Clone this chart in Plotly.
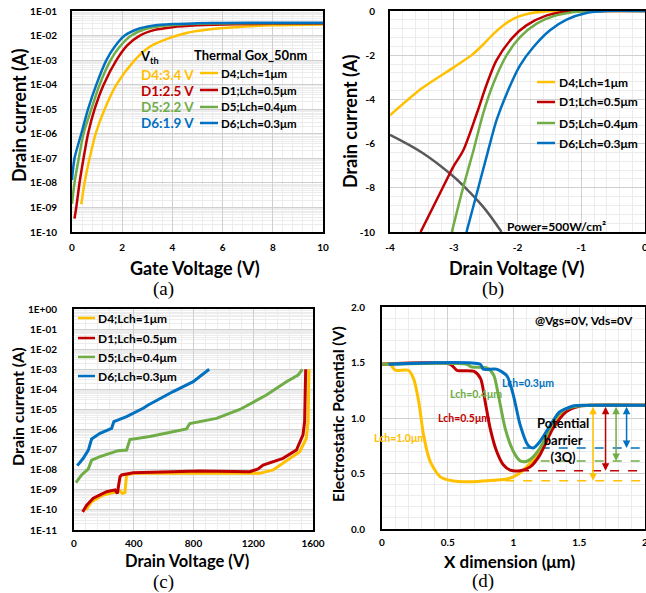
import plotly.graph_objects as go

W, H = 646, 593
FONT = "Lato"
SERIF = "Liberation Serif"
YEL, RED, GRN, BLU, GRY = "#FFC000", "#C00000", "#70AD47", "#0070C0", "#595959"
MAJ, MIN = "#d0d0d0", "#ececec"
COLORS = [YEL, RED, GRN, BLU]
NAMES = ["D4;Lch=1μm", "D1;Lch=0.5μm", "D5;Lch=0.4μm", "D6;Lch=0.3μm"]

# ---------------- Panel (a): Id-Vg (log) ----------------
a_vg_d4 = [0.37, 0.5, 0.7, 0.94, 1.3, 1.77, 2.5, 3.1, 3.9, 4.6, 5.5, 6.5, 8, 10]
a_id_d4 = [1.35e-9, 1e-8, 1e-7, 1e-6, 1e-5, 1e-4, 1e-3, 3.5e-3, 8e-3, 1.3e-2, 1.8e-2, 2.2e-2, 2.6e-2, 2.8e-2]
a_vg_d1 = [0.1, 0.17, 0.3, 0.46, 0.64, 0.9, 1.26, 1.77, 2.2, 2.7, 3.3, 4, 5, 6.5, 8, 10]
a_id_d1 = [3.5e-10, 1e-9, 1e-8, 1e-7, 1e-6, 1e-5, 1e-4, 1e-3, 4e-3, 1e-2, 1.7e-2, 2.2e-2, 2.6e-2, 2.9e-2, 3e-2, 3e-2]
a_vg_d5 = [0, 0.1, 0.27, 0.46, 0.77, 1.1, 1.54, 1.9, 2.36, 2.9, 3.5, 4.3, 5.5, 7, 10]
a_id_d5 = [1.4e-9, 1e-8, 1e-7, 1e-6, 1e-5, 1e-4, 1e-3, 3.5e-3, 1e-2, 1.8e-2, 2.4e-2, 2.85e-2, 3.1e-2, 3.2e-2, 3.2e-2]
a_vg_d6 = [0, 0.1, 0.37, 0.64, 0.97, 1.37, 1.7, 2.1, 2.6, 3.2, 4, 5, 6, 8, 10]
a_id_d6 = [1.3e-8, 1e-7, 1e-6, 1e-5, 1e-4, 1e-3, 3.5e-3, 1e-2, 1.8e-2, 2.5e-2, 2.95e-2, 3.15e-2, 3.25e-2, 3.3e-2, 3.3e-2]
a_vth = ["D4:3.4 V", "D1:2.5 V", "D5:2.2 V", "D6:1.9 V"]
a_yticks = [1e-10, 1e-9, 1e-8, 1e-7, 1e-6, 1e-5, 1e-4, 1e-3, 1e-2, 1e-1]
a_yticktext = ["1E-10", "1E-09", "1E-08", "1E-07", "1E-06", "1E-05", "1E-04", "1E-03", "1E-02", "1E-01"]

# ---------------- Panel (b): Id-Vd (linear) ----------------
b_vd_d4 = [-4, -3.5, -3.0, -2.7, -2.55, -2.4, -2.2, -2.0, -1.8, -1.6, -1.4, -1.0, 0]
b_id_d4 = [-4.72, -3.5, -2.55, -1.95, -1.55, -1.1, -0.6, -0.27, -0.1, -0.03, 0, 0, 0]
b_vd_d1 = [-3.52, -3.22, -3.01, -2.85, -2.64, -2.48, -2.33, -2.07, -1.86, -1.54, -1.23, -1.02, 0]
b_id_d1 = [-10, -8.27, -7.06, -6.3, -4.65, -3.29, -2.23, -1.18, -0.65, -0.2, -0.02, 0, 0]
b_vd_d5 = [-3.03, -2.85, -2.69, -2.54, -2.38, -2.17, -1.96, -1.7, -1.44, -1.12, -0.86, 0]
b_id_d5 = [-10, -7.96, -6.3, -4.65, -3.29, -2.0, -1.18, -0.57, -0.24, -0.05, 0, 0]
b_vd_d6 = [-2.8, -2.64, -2.48, -2.33, -2.17, -1.96, -1.75, -1.49, -1.23, -0.92, -0.6, 0]
b_id_d6 = [-10, -8.27, -6.53, -4.95, -3.74, -2.46, -1.63, -0.87, -0.39, -0.09, 0, 0]
b_vd_pow = [-4, -3.5, -3.0, -2.75, -2.5, -2.25]
b_id_pow = [-5.6, -6.4, -7.5, -8.2, -9.0, -10]

# ---------------- Panel (c): breakdown (log) ----------------
c_vd_d4 = [80, 118, 196, 308, 323, 341, 352, 397, 842, 1243, 1333, 1399, 1511, 1555, 1567, 1573]
c_id_d4 = [1e-10, 2.6e-10, 5.5e-10, 8.7e-10, 6.6e-10, 7.4e-10, 5.5e-9, 6.6e-9, 6.6e-9, 6.6e-9, 9.8e-9, 2.1e-8, 7.9e-8, 3.6e-7, 2.5e-6, 1e-3]
c_vd_d1 = [58, 85, 129, 218, 274, 290, 308, 319, 397, 842, 1177, 1232, 1266, 1399, 1489, 1533, 1544, 1551]
c_id_d1 = [8e-11, 1.7e-10, 3.8e-10, 8.1e-10, 1e-9, 6.6e-10, 4.5e-9, 5.5e-9, 7.1e-9, 8.7e-9, 7.9e-9, 1.1e-8, 1.7e-8, 3.7e-8, 9.5e-8, 5.4e-7, 2.5e-6, 1e-3]
c_vd_d5 = [13, 51, 96, 118, 174, 296, 352, 374, 508, 664, 753, 775, 954, 1110, 1288, 1422, 1500, 1529]
c_id_d5 = [2.3e-9, 5.5e-9, 1.1e-8, 3e-8, 4.5e-8, 8.9e-8, 9.5e-8, 3.2e-7, 4.5e-7, 7.9e-7, 1.07e-6, 2e-6, 3.6e-6, 1e-5, 5.2e-5, 2.4e-4, 5.1e-4, 1e-3]
c_vd_d6 = [22, 62, 96, 118, 174, 252, 267, 352, 463, 497, 664, 798, 905]
c_id_d6 = [1.6e-8, 3.7e-8, 9.5e-8, 3.4e-7, 6.5e-7, 1.15e-6, 2.5e-6, 4.4e-6, 1.15e-5, 1.66e-5, 7.8e-5, 2.4e-4, 1e-3]
c_yticks = [10.0 ** e for e in range(-11, 1)]
c_yticktext = ["1E-11", "1E-10", "1E-09", "1E-08", "1E-07", "1E-06", "1E-05", "1E-04", "1E-03", "1E-02", "1E-01", "1E+00"]

# ---------------- Panel (d): potential profile ----------------
d_x_10 = [0, 0.063, 0.1, 0.2, 0.24, 0.28, 0.316, 0.367, 0.443, 0.544, 0.67, 0.848, 0.95, 1.025, 1.1, 1.177, 1.28, 1.38, 1.48, 1.6, 2.0]
d_p_10 = [1.484, 1.484, 1.43, 1.43, 1.355, 1.145, 0.846, 0.606, 0.47, 0.432, 0.426, 0.44, 0.45, 0.486, 0.56, 0.666, 0.905, 1.055, 1.11, 1.115, 1.115]
d_x_05 = [0, 0.52, 0.57, 0.7, 0.75, 0.785, 0.823, 0.873, 0.924, 0.975, 1.05, 1.127, 1.2, 1.3, 1.4, 1.5, 1.6, 2.0]
d_p_05 = [1.484, 1.484, 1.43, 1.42, 1.355, 1.145, 0.905, 0.696, 0.576, 0.53, 0.525, 0.56, 0.666, 0.905, 1.055, 1.106, 1.115, 1.115]
d_x_04 = [0, 0.645, 0.68, 0.8, 0.85, 0.886, 0.937, 1.0, 1.05, 1.09, 1.15, 1.23, 1.3, 1.38, 1.48, 1.6, 2.0]
d_p_04 = [1.484, 1.484, 1.46, 1.45, 1.385, 1.2, 0.905, 0.696, 0.615, 0.606, 0.65, 0.786, 0.965, 1.07, 1.106, 1.115, 1.115]
d_x_03 = [0.05, 0.747, 0.77, 0.87, 0.95, 1.0, 1.05, 1.11, 1.15, 1.2, 1.28, 1.35, 1.46, 1.56, 2.0]
d_p_03 = [1.484, 1.484, 1.44, 1.44, 1.38, 1.2, 0.94, 0.755, 0.73, 0.786, 0.935, 1.055, 1.11, 1.115, 1.115]
d_labels = ["Lch=1.0μm", "Lch=0.5μm", "Lch=0.4μm", "Lch=0.3μm"]
d_levels = [0.435, 0.525, 0.612, 0.729]
d_dash_start = [0.8, 1.05, 1.07, 1.07]
d_arrow_x = [1.605, 1.70, 1.78, 1.86]
d_top = 1.115


def P(x, y):
    return x / W, 1 - y / H


def dom(x0, x1, y0, y1):
    return [x0 / W, x1 / W], [1 - y1 / H, 1 - y0 / H]


fig = go.Figure()

for xs, ys, c in [(a_vg_d4, a_id_d4, YEL), (a_vg_d1, a_id_d1, RED), (a_vg_d5, a_id_d5, GRN), (a_vg_d6, a_id_d6, BLU)]:
    fig.add_trace(go.Scatter(x=xs, y=ys, mode="lines", line=dict(color=c, width=2.5, shape="spline", smoothing=0.8),
                             xaxis="x", yaxis="y", showlegend=False))
fig.add_trace(go.Scatter(x=b_vd_pow, y=b_id_pow, mode="lines", line=dict(color=GRY, width=2.5, shape="spline"),
                         xaxis="x2", yaxis="y2", showlegend=False))
for xs, ys, c in [(b_vd_d4, b_id_d4, YEL), (b_vd_d1, b_id_d1, RED), (b_vd_d5, b_id_d5, GRN), (b_vd_d6, b_id_d6, BLU)]:
    fig.add_trace(go.Scatter(x=xs, y=ys, mode="lines", line=dict(color=c, width=2.5, shape="spline", smoothing=0.8),
                             xaxis="x2", yaxis="y2", showlegend=False))
for xs, ys, c in [(c_vd_d4, c_id_d4, YEL), (c_vd_d1, c_id_d1, RED), (c_vd_d5, c_id_d5, GRN), (c_vd_d6, c_id_d6, BLU)]:
    fig.add_trace(go.Scatter(x=xs, y=ys, mode="lines", line=dict(color=c, width=3),
                             xaxis="x3", yaxis="y3", showlegend=False))
d_curves = [(d_x_10, d_p_10), (d_x_05, d_p_05), (d_x_04, d_p_04), (d_x_03, d_p_03)]
for i in range(4):
    fig.add_trace(go.Scatter(x=[d_dash_start[i], 2], y=[d_levels[i], d_levels[i]], mode="lines",
                             line=dict(color=COLORS[i], width=1.5, dash="dash"),
                             xaxis="x4", yaxis="y4", showlegend=False))
for i, (xs, ys) in enumerate(d_curves):
    fig.add_trace(go.Scatter(x=xs, y=ys, mode="lines", line=dict(color=COLORS[i], width=3, shape="spline", smoothing=0.7),
                             xaxis="x4", yaxis="y4", showlegend=False))

tickfont = dict(family=FONT, size=10, color="black", weight="bold")


def axis(domain, anchor, standoff, **kw):
    d = dict(domain=domain, anchor=anchor, showline=True, linecolor="black", linewidth=2, mirror=True,
             showgrid=True, gridcolor=MAJ, gridwidth=1, zeroline=False, tickfont=tickfont,
             ticks="", ticklabelstandoff=standoff, ticklabeloverflow="allow",
             fixedrange=True, automargin=False)
    d.update(kw)
    return d


xa, ya = dom(72, 323, 11, 232)
xb, yb = dom(390, 645, 11, 232)
xc, yc = dom(74, 313, 309, 530)
xd, yd = dom(382, 645, 307, 529)


def logminor(lo, hi):
    return [k * 10.0 ** e for e in range(lo, hi) for k in range(2, 10)]


fig.update_layout(
    template="none",
    width=W, height=H, margin=dict(l=0, r=0, t=0, b=0, autoexpand=False),
    paper_bgcolor="white", plot_bgcolor="white", showlegend=False,
    xaxis=axis(xa, "y", 5, range=[0, 10], dtick=2, tick0=0,
               minor=dict(dtick=0.4, showgrid=True, gridcolor=MIN)),
    yaxis=axis(ya, "x", 11, type="log", range=[-10, -1], tickmode="array", tickvals=a_yticks, ticktext=a_yticktext,
               minor=dict(tickmode="array", tickvals=logminor(-10, -1), showgrid=True, gridcolor=MIN)),
    xaxis2=axis(xb, "y2", 5, range=[-4, 0], tickmode="array", tickvals=[-4, -3, -2, -1, 0],
                ticktext=["-4", "-3", "-2", "-1", "0"],
                minor=dict(dtick=0.2, tick0=0, showgrid=True, gridcolor=MIN)),
    yaxis2=axis(yb, "x2", 11, range=[-10, 0], tickmode="array", tickvals=[-10, -8, -6, -4, -2, 0],
                ticktext=["-10", "-8", "-6", "-4", "-2", "0"],
                minor=dict(dtick=0.4, tick0=0, showgrid=True, gridcolor=MIN)),
    xaxis3=axis(xc, "y3", 3, range=[0, 1600], dtick=400, tick0=0,
                minor=dict(dtick=80, showgrid=True, gridcolor=MIN)),
    yaxis3=axis(yc, "x3", 13, type="log", range=[-11, 0], tickmode="array", tickvals=c_yticks, ticktext=c_yticktext,
                minor=dict(tickmode="array", tickvals=logminor(-11, 0), showgrid=True, gridcolor=MIN)),
    xaxis4=axis(xd, "y4", 3, range=[0, 2], tickmode="array", tickvals=[0, 0.5, 1, 1.5, 2],
                ticktext=["0", "0.5", "1", "1.5", "2"],
                minor=dict(dtick=0.1, tick0=0, showgrid=True, gridcolor=MIN)),
    yaxis4=axis(yd, "x4", 13, range=[0, 2], dtick=0.5, tick0=0, tickformat=".1f",
                minor=dict(dtick=0.1, tick0=0, showgrid=True, gridcolor=MIN)),
)

ann = []
shapes = []


def text(x, y, s, size, color="black", xanchor="center", bold=True, angle=0, family=FONT):
    px, py = P(x, y)
    ann.append(dict(x=px, y=py, xref="paper", yref="paper", text=s, showarrow=False, xanchor=xanchor,
                    yanchor="middle", textangle=angle,
                    font=dict(family=family, size=size, color=color, weight="bold" if bold else "normal")))


def legend_box(x0, y0, x1, y1):
    a0, b0 = P(x0, y0)
    a1, b1 = P(x1, y1)
    shapes.append(dict(type="rect", xref="paper", yref="paper", x0=a0, y0=b1, x1=a1, y1=b0,
                       fillcolor="white", line=dict(width=0), layer="between"))


def legend_rows(lx0, lx1, tx, ys, size):
    for name, c, yy in zip(NAMES, COLORS, ys):
        a0, b0 = P(lx0, yy)
        a1, _ = P(lx1, yy)
        shapes.append(dict(type="line", xref="paper", yref="paper", x0=a0, x1=a1, y0=b0, y1=b0,
                           line=dict(color=c, width=2.5), layer="above"))
        text(tx, yy, name, size, xanchor="left")


# axis titles
text(19, 115, "Drain current (A)", 18, angle=-90)
text(195, 268, "Gate Voltage (V)", 18)
text(350, 121, "Drain current (A)", 18, angle=-90)
text(517, 268, "Drain Voltage (V)", 18)
text(18, 407, "Drain current (A)", 16, angle=-90)
text(187, 561, "Drain Voltage (V)", 16.5)
text(338, 414, "Electrostatic Potential (V)", 15.5, angle=-90)
text(510, 561, "X dimension (μm)", 17)
# panel letters
text(163, 289, "(a)", 19, bold=False, family=SERIF)
text(493, 289, "(b)", 19, bold=False, family=SERIF)
text(163, 582, "(c)", 19, bold=False, family=SERIF)
text(483, 581, "(d)", 19, bold=False, family=SERIF)

# panel a annotations
legend_box(198, 65, 302, 132)
text(192, 55, "Thermal Gox_50nm", 13, xanchor="left")
text(138, 57, "V<sub>th</sub>", 13, xanchor="left")
for s, c, yy in zip(a_vth, COLORS, [75, 91, 107, 123]):
    text(139, yy, s, 13.5, color=c, xanchor="left")
legend_rows(200, 218, 219, [73, 90, 107, 123], 11.5)
shapes.append(dict(type="circle", xref="x", yref="y", x0=1.12, x1=2.59, y0=-2.69, y1=-2.17,
                   line=dict(color="black", width=1.5, dash="dot")))

# panel b annotations
legend_box(534, 71, 642, 153)
legend_rows(537, 555, 557, [82, 102, 123, 143], 12)
text(505, 227, "Power=500W/cm²", 12, xanchor="left")

# panel c legend
legend_box(75, 310, 175, 386)
legend_rows(78, 95, 96, [318, 338, 357, 376], 12)

# panel d annotations
text(533, 320, "@Vgs=0V, Vds=0V", 12, xanchor="left")
for s, c, (lx, ly) in zip(d_labels, COLORS, [(372, 438), (436, 418), (448, 394), (500, 383)]):
    text(lx, ly, s, 10.5, color=c, xanchor="left")
text(563, 440, "Potential<br>barrier<br>(3Q)", 13)
for i in range(4):
    ann.append(dict(x=d_arrow_x[i], y=d_levels[i], ax=d_arrow_x[i], ay=d_top, xref="x4", yref="y4",
                    axref="x4", ayref="y4", text="", showarrow=True, arrowhead=2, startarrowhead=2,
                    arrowside="end+start", arrowsize=1, arrowwidth=1.5, arrowcolor=COLORS[i],
                    standoff=0, startstandoff=0))

fig.update_layout(annotations=ann, shapes=shapes)
fig.write_html("out.html")
